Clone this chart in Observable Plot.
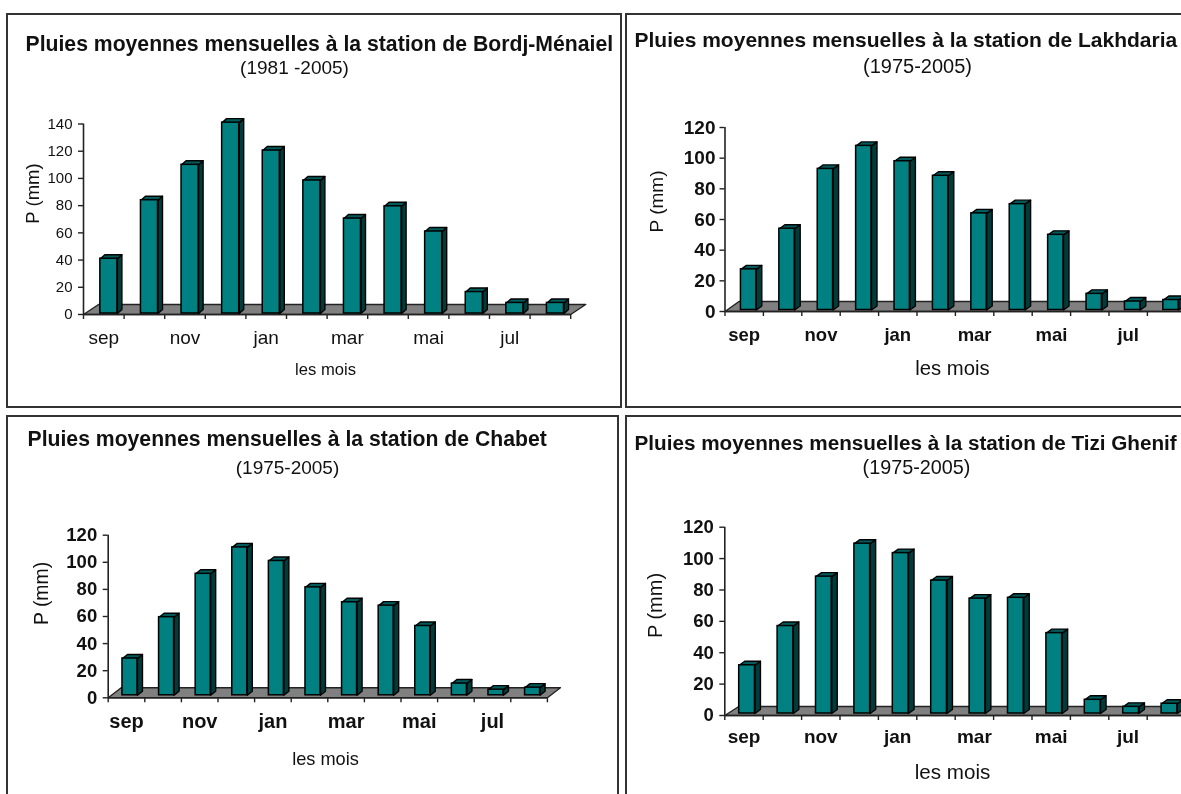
<!DOCTYPE html>
<html><head><meta charset="utf-8">
<script src="https://cdn.jsdelivr.net/npm/d3@7"></script>
<script src="https://cdn.jsdelivr.net/npm/@observablehq/plot@0.6"></script>
<style>
html,body{margin:0;padding:0;background:#fff;width:1181px;height:794px;overflow:hidden}
#page{position:relative;width:1181px;height:794px;overflow:hidden}
.panel{position:absolute;box-sizing:border-box;border:2px solid #333;overflow:hidden;background:#fff}
.panel svg{position:absolute;left:0;top:0;filter:blur(.3px);background:transparent}
</style></head><body><div id="page"></div>
<script>
const months = ["sep","oct","nov","dec","jan","fev","mar","avr","mai","jun","jul","aou"];
const bordjMenaiel = [41,84,110,141,120.5,98.5,70.5,79.5,61,16.5,8.5,8.5];
const lakhdaria = [27.5,54,93,108,98,88.5,64,70,50,11.5,6.5,7.5];
const chabet = [29,59.5,91.5,111,101,81.5,70.5,68,53,10.5,6,7.5];
const tiziGhenif = [32,57,88.5,109.5,103.5,86,74.5,75,52.5,10,5.5,7.5];
const yTicksA = [0,20,40,60,80,100,120,140];
const yTicksB = [0,20,40,60,80,100,120];
const periodA = "(1981 -2005)";
const periodB = "(1975-2005)";

const panels = [
 {v:bordjMenaiel,title:"Pluies moyennes mensuelles à la station de Bordj-Ménaiel",sub:periodA,ticks:yTicksA,
  box:[6,13,616,395],ax:83,y0:314,yTop:123.5,step:40.6,off:.125,bw:.42,inset:1,dx:4.5,dy:4,fdx:15,fdy:10,bold:false,
  tx:25,ty:43.5,tfs:21.2,sx:294,sy:67,sfs:19,px:33,py:193,pfs:18.5,lx:325,ly:369,lfs:16.6,tickFs:15,tickPad:6,mly:340,mfs:19},
 {v:lakhdaria,title:"Pluies moyennes mensuelles à la station de Lakhdaria",sub:periodB,ticks:yTicksB,
  box:[625,13,640,395],ax:724.5,y0:311,yTop:127,step:38.4,off:.115,bw:.4,inset:1.5,dx:5.5,dy:4,fdx:14,fdy:10,bold:true,
  tx:634,ty:40,tfs:21,sx:917,sy:66,sfs:20,px:656,py:201,pfs:19,lx:952,ly:368,lfs:20.3,tickFs:19,tickPad:4.5,mly:338,mfs:18.5},
 {v:chabet,title:"Pluies moyennes mensuelles à la station de Chabet",sub:periodB,ticks:yTicksB,
  box:[6,415,613,400],ax:107.7,y0:697.3,yTop:534.7,step:36.6,off:.095,bw:.41,inset:2.5,dx:5,dy:4,fdx:13,fdy:10,bold:true,
  tx:27,ty:438.5,tfs:21.2,sx:287,sy:467,sfs:19,px:41,py:593,pfs:19.4,lx:325,ly:759,lfs:18.2,tickFs:18.5,tickPad:6,mly:724,mfs:20},
 {v:tiziGhenif,title:"Pluies moyennes mensuelles à la station de Tizi Ghenif",sub:periodB,ticks:yTicksB,
  box:[625,415,640,400],ax:724.3,y0:715,yTop:526.7,step:38.4,off:.08,bw:.41,inset:2,dx:5.5,dy:4,fdx:14,fdy:9,bold:true,
  tx:634,ty:442.5,tfs:20.7,sx:916,sy:467,sfs:19.8,px:655,py:605,pfs:20,lx:952,ly:772,lfs:20.6,tickFs:18.5,tickPad:6,mly:739,mfs:19}
];

const font = "Liberation Sans, Arial, sans-serif";
const page = document.getElementById("page");

for (const p of panels) {
  const [bx,by,bw,bh] = p.box;
  const inner = {x:bx+2,y:by+2,w:bw-4,h:bh-4};
  const marginLeft = p.ax-inner.x, marginTop = p.yTop-inner.y;
  const marginBottom = inner.h-(p.y0-inner.y);
  const plotW = p.step*12;
  const width = Math.max(inner.w, marginLeft+plotW+1);
  const marginRight = width-marginLeft-plotW;
  const ymax = p.ticks[p.ticks.length-1];
  const pxUnit = (p.y0-p.yTop)/ymax;
  const ddx = p.dx/p.step, ddy = p.dy/pxUnit;
  const fx = p.fdx/p.step, fy = p.fdy/pxUnit;
  const base = p.inset/pxUnit;
  const bars = p.v.map((value,i)=>({i,value,x1:i+.5+p.off-p.bw/2,x2:i+.5+p.off+p.bw/2}));
  const floor = [[0,0],[12,0],[12+fx,fy],[fx,fy]].map(([x,y])=>({x,y}));
  const side = bars.flatMap(b=>[[b.x2,base],[b.x2+ddx,base+ddy],[b.x2+ddx,b.value+ddy],[b.x2,b.value]].map(([x,y])=>({x,y,z:b.i})));
  const top = bars.flatMap(b=>[[b.x1,b.value],[b.x2,b.value],[b.x2+ddx,b.value+ddy],[b.x1+ddx,b.value+ddy]].map(([x,y])=>({x,y,z:b.i})));
  const weight = p.bold?"bold":"normal";
  const at = (tx,ty)=>({frameAnchor:"top-left",dx:tx-p.ax,dy:ty-p.yTop,fontFamily:font,fill:"#111"});
  const chart = Plot.plot({
    width,height:inner.h,marginLeft,marginTop,marginBottom,marginRight,
    x:{type:"linear",domain:[0,12],axis:null},
    y:{type:"linear",domain:[0,ymax],axis:null},
    style:{background:"transparent",overflow:"visible"},
    marks:[
      Plot.line(floor,{x:"x",y:"y",fill:"#808080",stroke:"#222",strokeWidth:1.4,curve:"linear-closed"}),
      Plot.ruleX([0],{stroke:"#222",strokeWidth:1.6}),
      Plot.ruleY([0],{stroke:"#222",strokeWidth:1.6}),
      Plot.axisY(p.ticks,{tickSize:5,tickPadding:p.tickPad,label:null,stroke:"#222",fontSize:p.tickFs,fontWeight:weight,fontFamily:font,fill:"#111",strokeWidth:1.4}),
      Plot.axisX(d3.range(13),{tickSize:5,tickFormat:()=>"",label:null,stroke:"#222",strokeWidth:1.4}),
      Plot.axisX(d3.range(0,12,2).map(i=>i+.5),{tickSize:0,tickPadding:p.mly-p.y0-p.mfs*.55,tickFormat:v=>months[Math.floor(v)],label:null,fontSize:p.mfs,fontWeight:weight,fontFamily:font,fill:"#111"}),
      Plot.line(side,{x:"x",y:"y",z:"z",fill:"#003c3c",stroke:"#000",strokeWidth:1.4,curve:"linear-closed"}),
      Plot.line(top,{x:"x",y:"y",z:"z",fill:"#005c5c",stroke:"#000",strokeWidth:1.4,curve:"linear-closed"}),
      Plot.rect(bars,{x1:"x1",x2:"x2",y1:()=>base,y2:"value",fill:"#008080",stroke:"#000",strokeWidth:1.5,inset:0}),
      Plot.text([p.title],{...at(p.tx,p.ty),textAnchor:"start",lineAnchor:"middle",fontSize:p.tfs,fontWeight:"bold"}),
      Plot.text([p.sub],{...at(p.sx,p.sy),textAnchor:"middle",lineAnchor:"middle",fontSize:p.sfs}),
      Plot.text(["P (mm)"],{...at(p.px,p.py),textAnchor:"middle",lineAnchor:"middle",rotate:-90,fontSize:p.pfs}),
      Plot.text(["les mois"],{...at(p.lx,p.ly),textAnchor:"middle",lineAnchor:"middle",fontSize:p.lfs})
    ]
  });
  const div = document.createElement("div");
  div.className = "panel";
  Object.assign(div.style,{left:bx+"px",top:by+"px",width:bw+"px",height:bh+"px"});
  div.appendChild(chart);
  page.appendChild(div);
}
</script></body></html>
